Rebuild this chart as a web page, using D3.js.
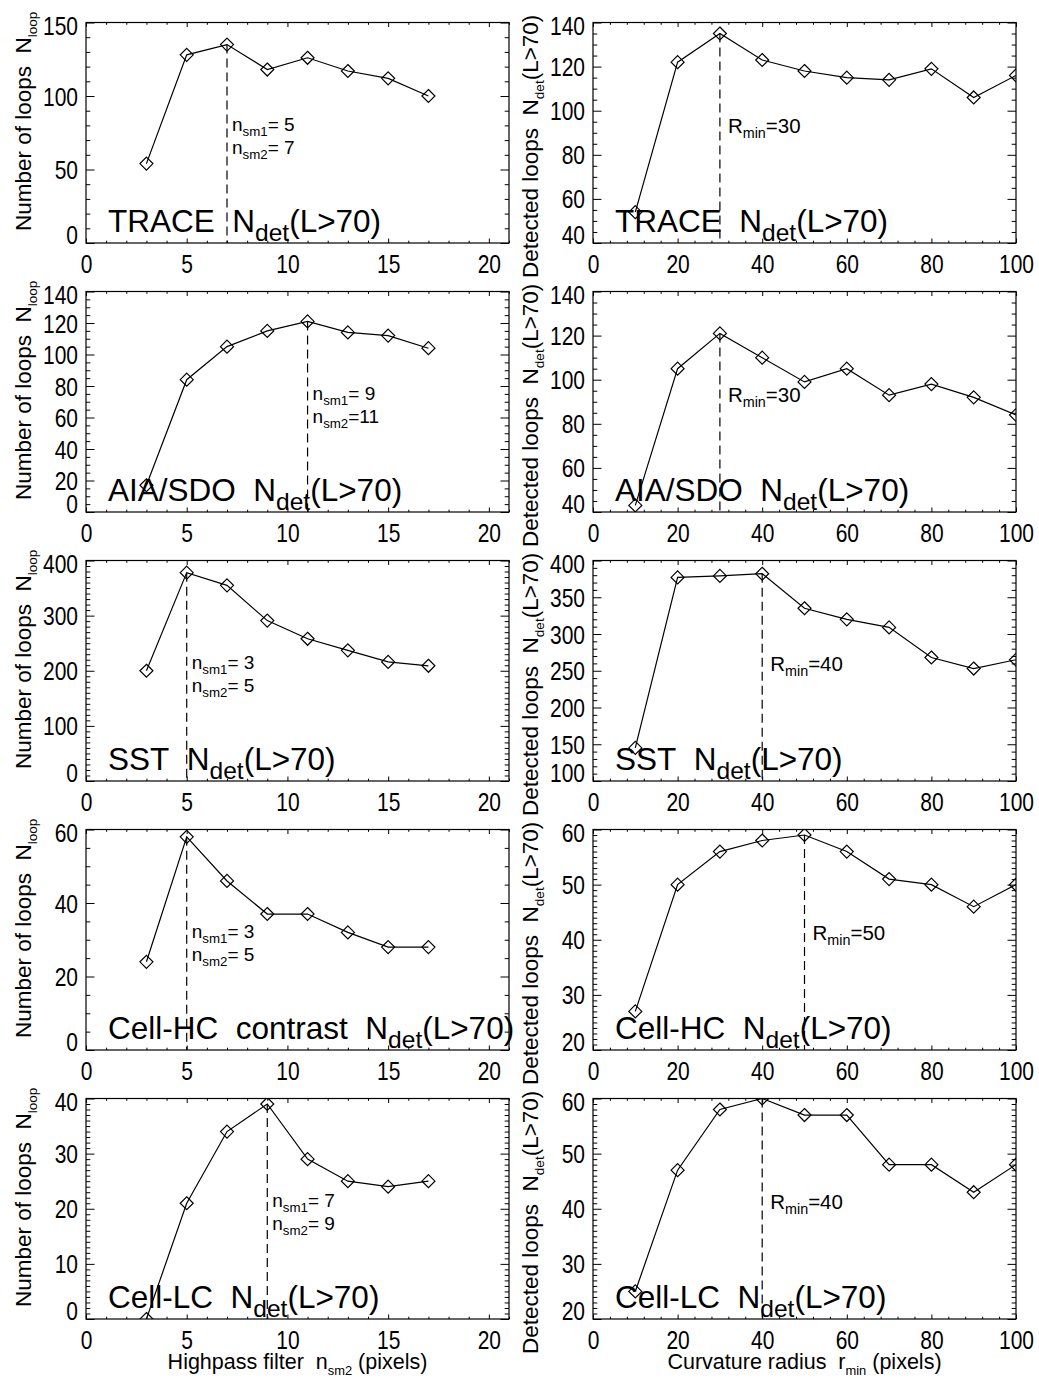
<!DOCTYPE html>
<html>
<head>
<meta charset="utf-8">
<script src="https://cdn.jsdelivr.net/npm/d3@7"></script>
<style>
  body { margin: 0; background: #fff; }
  svg { display: block; }
  text { font-family: "Liberation Sans", Arial, Helvetica, sans-serif; fill: #000; }
</style>
</head>
<body>
<script>
// x values: highpass filter width (left column), curvature radius (right column)
const nsm2 = [3, 5, 7, 9, 11, 13, 15, 17];
const rmin = [10, 20, 30, 40, 50, 60, 70, 80, 90, 100];

// detected loop counts
const traceN = [54, 128, 135, 118, 126, 117, 112, 100];
const traceR = [54, 122, 135, 123, 118, 115, 114, 119, 106, 116];
const aiaN   = [17, 84, 105, 115, 121, 114, 112, 104];
const aiaR   = [43, 105, 121, 110, 99, 105, 93, 98, 92, 84];
const sstN   = [200, 378, 355, 291, 258, 237, 216, 209];
const sstR   = [145, 377, 379, 382, 335, 320, 309, 268, 253, 265];
const hcN    = [24, 58, 46, 37, 37, 32, 28, 28];
const hcR    = [27, 50, 56, 58, 59, 56, 51, 50, 46, 50];
const lcN    = [0, 21, 34, 39, 29, 25, 24, 25];
const lcR    = [25, 47, 58, 60, 57, 57, 48, 48, 43, 48];

const namesN = ["TRACE", "AIA/SDO", "SST", "Cell-HC  contrast", "Cell-LC"];
const namesR = ["TRACE", "AIA/SDO", "SST", "Cell-HC", "Cell-LC"];
const bestSm1 = [5, 9, 3, 3, 7];
const bestSm2 = [7, 11, 5, 5, 9];
const bestR   = [30, 30, 40, 50, 40];

// y axis ranges and tick steps
const yDomN   = [[0, 150], [0, 140], [0, 400], [0, 60], [0, 40]];
const yStepN  = [50, 20, 100, 20, 10];
const yMinorN = [10, 5, 10, 5, 1];
const yDomR   = [[40, 140], [40, 140], [100, 400], [20, 60], [20, 60]];
const yStepR  = [20, 20, 50, 10, 10];
const yMinorR = [5, 5, 10, 1, 1];

const seriesN = [traceN, aiaN, sstN, hcN, lcN];
const seriesR = [traceR, aiaR, sstR, hcR, lcR];

const W = 1039, H = 1378;
const PW = 423, PH = 220.5;
const colX = [86, 593];
const rowY = i => 22.5 + i * 269;
const NBSP = "\u00A0";

const svg = d3.select("body").append("svg")
  .attr("width", W).attr("height", H);

// text made of plain and subscript pieces
const rich = (t, parts, size, ratio = 0.62) => {
  let low = false;
  const sub = size * ratio, shift = size * 0.27;
  parts.forEach(([s, isSub]) => {
    const sp = t.append("tspan").text(s.replace(/ /g, NBSP)).attr("font-size", isSub ? sub : size);
    if (isSub && !low) { sp.attr("dy", shift); low = true; }
    else if (!isSub && low) { sp.attr("dy", -shift); low = false; }
  });
  return t;
};

const seq = (d0, d1, step) => d3.range(Math.ceil(d0 / step) * step, d1 + 1e-9, step);

let clipId = 0;
const drawPanel = (cfg) => {
  const g = svg.append("g").attr("transform", `translate(${cfg.left},${cfg.top})`);
  const x = d3.scaleLinear().domain(cfg.xDom).range([0, PW]);
  const y = d3.scaleLinear().domain(cfg.yDom).range([PH, 0]);

  const xMaj = seq(cfg.xDom[0], cfg.xDom[1], cfg.xStep);
  const xMin = seq(cfg.xDom[0], cfg.xDom[1], cfg.xMinor).filter(v => !xMaj.includes(v));
  const yMaj = seq(cfg.yDom[0], cfg.yDom[1], cfg.yStep);
  const yMin = seq(cfg.yDom[0], cfg.yDom[1], cfg.yMinor).filter(v => !yMaj.some(m => Math.abs(m - v) < 1e-6));

  const tyMaj = 8.5, tyMin = 4.3, txMaj = 4.5, txMin = 2.3;
  const axes = [
    [d3.axisBottom(x).tickValues(xMaj).tickSize(-txMaj), `translate(0,${PH})`, true],
    [d3.axisBottom(x).tickValues(xMin).tickSize(-txMin), `translate(0,${PH})`, false],
    [d3.axisTop(x).tickValues(xMaj).tickSize(-txMaj), null, false],
    [d3.axisTop(x).tickValues(xMin).tickSize(-txMin), null, false],
    [d3.axisLeft(y).tickValues(yMaj).tickSize(-tyMaj), null, true],
    [d3.axisLeft(y).tickValues(yMin).tickSize(-tyMin), null, false],
    [d3.axisRight(y).tickValues(yMaj).tickSize(-tyMaj), `translate(${PW},0)`, false],
    [d3.axisRight(y).tickValues(yMin).tickSize(-tyMin), `translate(${PW},0)`, false]
  ];
  axes.forEach(([ax, tr, labels], k) => {
    const a = g.append("g").attr("transform", tr).call(ax.tickFormat(labels ? d3.format("d") : ""));
    a.select(".domain").remove();
    a.selectAll("line").attr("stroke", "#000").attr("stroke-width", 1);
    if (!labels) { a.selectAll("text").remove(); return; }
    if (k === 0) {
      a.selectAll("text")
        .attr("x", 0).attr("y", 0).attr("dy", "0.358em")
        .attr("transform", `translate(0,20.5) scale(1,1.2)`)
        .style("font-size", "21px").attr("text-anchor", "middle");
    } else {
      a.selectAll("text").each(function(d) {
        const cy = Math.max(3, Math.min(PH - 9, y(d)));
        d3.select(this)
          .attr("x", 0).attr("y", 0).attr("dy", "0.358em")
          .attr("transform", `translate(-8,${cy - y(d)}) scale(1,1.2)`)
          .style("font-size", "21px").attr("text-anchor", "end");
      });
    }
  });

  g.append("rect").attr("width", PW).attr("height", PH)
    .attr("fill", "none").attr("stroke", "#000").attr("stroke-width", 1.2);

  // optimum marker
  const yOpt = cfg.ys[cfg.xs.indexOf(cfg.opt)];
  g.append("line")
    .attr("x1", x(cfg.opt)).attr("x2", x(cfg.opt))
    .attr("y1", y(yOpt)).attr("y2", PH)
    .attr("stroke", "#000").attr("stroke-width", 1.2)
    .attr("stroke-dasharray", "9,5");

  const cid = "clip" + (clipId++);
  g.append("clipPath").attr("id", cid).append("rect").attr("width", PW).attr("height", PH);
  const pg = g.append("g").attr("clip-path", `url(#${cid})`);
  const pts = cfg.xs.map((v, i) => [v, cfg.ys[i]]);
  pg.append("path").datum(pts)
    .attr("fill", "none").attr("stroke", "#000").attr("stroke-width", 1.2)
    .attr("d", d3.line().x(d => x(d[0])).y(d => y(d[1])));
  const r = 6.5;
  pg.selectAll("path.dm").data(pts).enter().append("path").attr("class", "dm")
    .attr("d", d => `M${x(d[0])},${y(d[1]) - r}L${x(d[0]) + r},${y(d[1])}L${x(d[0])},${y(d[1]) + r}L${x(d[0]) - r},${y(d[1])}Z`)
    .attr("fill", "none").attr("stroke", "#000").attr("stroke-width", 1.2);

  // instrument label
  rich(g.append("text").attr("x", 22).attr("y", PH - 11),
    [[cfg.name + "  N", false], ["det", true], ["(L>70)", false]], 31.5, 0.78);

  // annotation
  cfg.ann.forEach((parts, i) => {
    rich(g.append("text").attr("x", x(cfg.opt) + cfg.annDx).attr("y", cfg.annY + i * 23),
      parts, cfg.annSize, 0.7);
  });
  return g;
};

for (let i = 0; i < 5; i++) {
  const top = rowY(i);
  drawPanel({
    left: colX[0], top, xs: nsm2, ys: seriesN[i],
    xDom: [0, 21], xStep: 5, xMinor: 1,
    yDom: yDomN[i], yStep: yStepN[i], yMinor: yMinorN[i],
    opt: bestSm2[i], name: namesN[i], annDx: 5, annY: 108, annSize: 19,
    ann: [
      [["n", false], ["sm1", true], ["= " + bestSm1[i], false]],
      [["n", false], ["sm2", true], [(bestSm2[i] < 10 ? "= " : "=") + bestSm2[i], false]]
    ]
  });
  drawPanel({
    left: colX[1], top, xs: rmin, ys: seriesR[i],
    xDom: [0, 100], xStep: 20, xMinor: 4,
    yDom: yDomR[i], yStep: yStepR[i], yMinor: yMinorR[i],
    opt: bestR[i], name: namesR[i], annDx: 8, annY: 110, annSize: 20.5,
    ann: [[["R", false], ["min", true], ["=" + bestR[i], false]]]
  });

  // y titles
  const bottom = top + PH;
  rich(svg.append("text").attr("transform", `translate(31,${bottom - 12}) rotate(-90)`),
    [["Number of loops  N", false], ["loop", true]], 22.5, 0.6);
  rich(svg.append("text").attr("transform", `translate(538,${bottom + 35}) rotate(-90)`),
    [["Detected loops  N", false], ["det", true], ["(L>70)", false]], 22.5, 0.6);
}

// x titles under the last row
rich(svg.append("text").attr("x", colX[0] + PW / 2).attr("y", 1369).attr("text-anchor", "middle"),
  [["Highpass filter  n", false], ["sm2", true], [" (pixels)", false]], 21.5, 0.6);
rich(svg.append("text").attr("x", colX[1] + PW / 2).attr("y", 1369).attr("text-anchor", "middle"),
  [["Curvature radius  r", false], ["min", true], [" (pixels)", false]], 21.5, 0.6);
</script>
</body>
</html>
